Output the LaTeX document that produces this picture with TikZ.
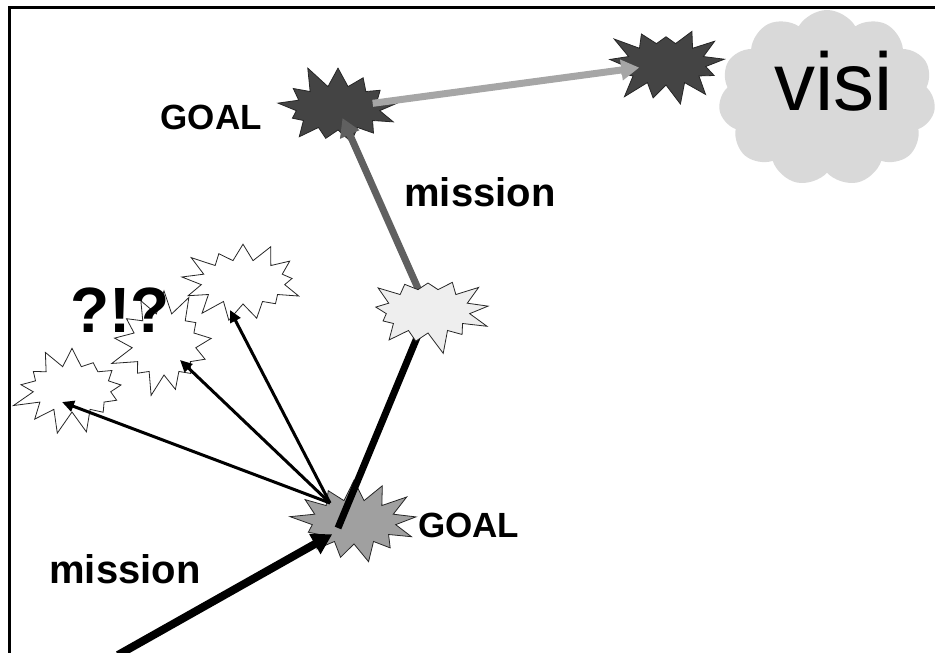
\documentclass[tikz,border=0pt]{standalone}
\usepackage{fontspec}
\setmainfont{Liberation Sans}
\usetikzlibrary{shapes.symbols,arrows.meta,positioning,calc}
\definecolor{darkstar}{HTML}{444444}
\definecolor{midstar}{HTML}{A0A0A0}
\definecolor{palestar}{HTML}{EEEEEE}
\definecolor{cloudgrey}{HTML}{D9D9D9}
\definecolor{pathgrey}{HTML}{606060}
\definecolor{visigrey}{HTML}{A6A6A6}
\tikzset{
    burst/.style = {starburst, starburst points=13, starburst point height=24pt, minimum width=132pt, minimum height=92pt, inner sep=0pt, draw=black!85, line width=0.8pt},
    dark-burst/.style = {burst, fill=darkstar},
    mid-burst/.style = {burst, fill=midstar},
    pale-burst/.style = {burst, fill=palestar},
    white-burst/.style = {burst, fill=white},
    goal-text/.style = {font=\fontsize{35}{40}\selectfont\bfseries, inner sep=0pt},
    mission-text/.style = {font=\fontsize{40}{46}\selectfont\bfseries, inner sep=0pt},
}

\begin{document}
\begin{tikzpicture}[x=1pt, y=-1pt]
\useasboundingbox (0,0) rectangle (935,653);
\draw[line width=3pt] (9.5,653) -- (9.5,7) -- (935,7);

% vision cloud
\node[cloud, cloud puffs=11, cloud puff arc=120, aspect=1.3, fill=cloudgrey, minimum width=217pt, minimum height=176pt] (cloud) at (827,98) {};

% stars
\node[dark-burst, random starburst=11] (goaltop) at (338,108) {};
\node[dark-burst, random starburst=23, minimum width=128pt, minimum height=90pt] (far) at (666,64) {};
\node[mid-burst, random starburst=37] (goallow) at (354,522) {};
\node[white-burst, random starburst=41] (q1) at (243,282) {};
\node[white-burst, random starburst=53, minimum width=112pt, minimum height=110pt] (q2) at (164,344) {};
\node[white-burst, random starburst=67, minimum width=126pt, minimum height=94pt] (q3) at (72,389) {};
\coordinate (lightpos) at (428,311);
\coordinate (start) at (118,655);
\coordinate (fan) at ($(goallow.center)+(-24,-19)$);

% arrows
\draw[line width=8pt, -{Triangle[length=20pt,width=22pt]}, shorten >=25pt] (start) -- (goallow.center);
\draw[line width=7pt, visigrey, -{Triangle[length=18pt,width=20pt]}, shorten <=35pt, shorten >=27pt] (goaltop.center) -- (far.center);
\draw[line width=7pt, pathgrey, -{Triangle[length=18pt,width=20pt]}, shorten >=11pt] (lightpos) -- (goaltop.center);
\draw[line width=7pt, -{Triangle[length=18pt,width=20pt]}] ($(goallow.center)+(-16,6)$) -- (lightpos);
\draw[line width=3pt, -{Triangle[length=12pt,width=11pt]}] (fan) -- ($(q3.center)+(-10,13)$);
\draw[line width=3pt, -{Triangle[length=12pt,width=11pt]}] (fan) -- ($(q2.center)+(16,16)$);
\draw[line width=3pt, -{Triangle[length=12pt,width=11pt]}] (fan) -- ($(q1.center)+(-13,28)$);
\node[pale-burst, random starburst=79] (light) at (lightpos) {};

% labels
\node[goal-text, left=76pt] (goal1) at ($(goaltop.center)+(0,9)$) {GOAL};
\node[goal-text, right=64pt] (goal2) at ($(goallow.center)+(0,3)$) {GOAL};
\node[mission-text] (mission1) at (480,192) {mission};
\node[mission-text] (mission2) at (125,569) {mission};
\node[font=\fontsize{64}{70}\selectfont\bfseries, inner sep=0pt] (puzzle) at (120,310) {?!?};
\node[font=\fontsize{82}{90}\selectfont, inner sep=0pt] (visi) at (834,81) {visi};
\end{tikzpicture}
\end{document}
